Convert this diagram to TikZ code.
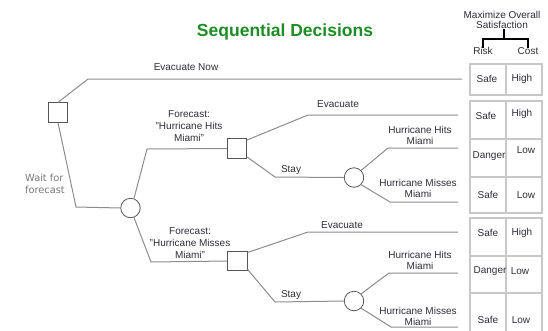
\documentclass[tikz,border=0pt]{standalone}
\usepackage{fontspec}
\setmainfont{Liberation Sans}
\newfontfamily\waitfont{DejaVu Sans}
\usetikzlibrary{calc}
\definecolor{titlegreen}{RGB}{28,140,36}
\definecolor{linegray}{RGB}{140,140,140}
\definecolor{nodegray}{RGB}{85,85,85}
\definecolor{cellgray}{RGB}{200,200,200}
\definecolor{txt}{RGB}{45,45,55}
\definecolor{waitgray}{RGB}{120,120,120}
\begin{document}
\begin{tikzpicture}[x=1pt,y=-1pt,
  branch/.style={draw=linegray,line width=1pt},
  decision/.style={draw=nodegray,line width=0.8pt,rectangle,minimum size=19.5pt,inner sep=0pt,fill=white},
  chance/.style={draw=nodegray,line width=0.8pt,circle,minimum size=19.5pt,inner sep=0pt,fill=white},
  lbl/.style={font=\fontsize{10}{12}\selectfont,text=txt,inner sep=0pt,align=center},
  hlbl/.style={font=\fontsize{10}{11}\selectfont,text=txt,inner sep=0pt,align=center},
  celltxt/.style={font=\fontsize{10}{12}\selectfont,text=txt,inner sep=0pt},
  cell/.style={draw=cellgray,line width=1.5pt},
  bracket/.style={draw=black,line width=1.6pt},
  waitlbl/.style={font=\waitfont\fontsize{9.8}{12}\selectfont,text=waitgray,inner sep=0pt,align=left}
]
\useasboundingbox (0,0) rectangle (548,330);

% title and header
\node[font=\fontsize{17.5}{20}\selectfont\bfseries,text=titlegreen] (title) at (285,32) {Sequential Decisions};
\node[font=\fontsize{10}{10.5}\selectfont,text=txt,align=center,inner sep=0pt] (hdr) at (502,20) {Maximize Overall\\Satisfaction};
\node[celltxt] (risk) at (483,51) {Risk};
\node[celltxt] (cost) at (528,51) {Cost};
\coordinate (bj) at (504,39);
\draw[bracket] (hdr.south -| bj) -- (bj);
\draw[bracket] ([yshift=-1pt]risk.north) -- (risk.north |- bj) -- (cost.north |- bj) -- ([yshift=-1pt]cost.north);

% table
\draw[cell] (470,64) rectangle (542,95);
\draw[cell] (506,64) -- (506,95);
\draw[cell] (470,101) rectangle (542,213);
\draw[cell] (506,101) -- (506,213);
\draw[cell] (470,139) -- (542,139);
\draw[cell] (470,177) -- (542,177);
\draw[cell] (470,331) -- (470,218) -- (542,218) -- (542,331);
\draw[cell] (506,218) -- (506,331);
\draw[cell] (470,256) -- (542,256);
\draw[cell] (470,293) -- (542,293);

\node[celltxt] (r1) at (487,79) {Safe};
\node[celltxt] (c1t) at (522,79) {High};
\node[celltxt] (r2) at (486,116) {Safe};
\node[celltxt] (c2t) at (522,114) {High};
\node[celltxt] (r3) at (489,156) {Danger};
\node[celltxt] (c3t) at (526,150) {Low};
\node[celltxt] (r4) at (488,195) {Safe};
\node[celltxt] (c4t) at (526,195) {Low};
\node[celltxt] (r5) at (488,233) {Safe};
\node[celltxt] (c5t) at (522,233) {High};
\node[celltxt] (r6) at (490,271) {Danger};
\node[celltxt] (c6t) at (520,271) {Low};
\node[celltxt] (r7) at (488,320) {Safe};
\node[celltxt] (c7t) at (521,320) {Low};

% nodes of the tree
\node[decision] (d1) at (58,112.5) {};
\node[chance] (cA) at (130.5,208) {};
\node[decision] (d2) at (237,148.5) {};
\node[decision] (d3) at (237.5,261) {};
\node[chance] (cB) at (354,177.5) {};
\node[chance] (cC) at (354,301) {};

\coordinate (k1) at (88,79);   \coordinate (e1) at (462,79);
\coordinate (k2) at (76,207);
\coordinate (k3) at (147,149);
\coordinate (k4) at (151,262);
\coordinate (k5) at (308,115); \coordinate (e5) at (458,115);
\coordinate (k6) at (275,177);
\coordinate (k7) at (388,148); \coordinate (e7) at (458,148);
\coordinate (k8) at (390,202); \coordinate (e8) at (458,202);
\coordinate (k9) at (308,232); \coordinate (e9) at (458,232);
\coordinate (k10) at (275,302);
\coordinate (k11) at (389,273); \coordinate (e11) at (458,273);
\coordinate (k12) at (391,327); \coordinate (e12) at (458,327);

\draw[branch] (d1.north) -- (k1) -- (e1);
\draw[branch] (d1.south) -- (k2) -- (cA.west);
\draw[branch] (cA.70) -- (k3) -- (d2.west);
\draw[branch] (cA.-70) -- (k4) -- (d3.west);
\draw[branch] (d2.40) -- (k5) -- (e5);
\draw[branch] (d2.-40) -- (k6) -- (cB.west);
\draw[branch] (cB.45) -- (k7) -- (e7);
\draw[branch] (cB.-45) -- (k8) -- (e8);
\draw[branch] (d3.40) -- (k9) -- (e9);
\draw[branch] (d3.-40) -- (k10) -- (cC.west);
\draw[branch] (cC.45) -- (k11) -- (e11);
\draw[branch] (cC.-45) -- (k12) -- (e12);

% labels
\node[lbl] (evnow) at (186,67) {Evacuate Now};
\node[waitlbl] (wait) at (45,184) {Wait for\\forecast};
\node[lbl] (f1) at (189,126) {Forecast:\\"Hurricane Hits\\Miami"};
\node[lbl] (f2) at (190,243) {Forecast:\\"Hurricane Misses\\Miami"};
\node[lbl] (ev1) at (338,104) {Evacuate};
\node[lbl] (st1) at (291,170) {Stay};
\node[hlbl] (hh1) at (420,135) {Hurricane Hits\\Miami};
\node[hlbl] (hm1) at (418,188) {Hurricane Misses\\Miami};
\node[lbl] (ev2) at (342,225) {Evacuate};
\node[lbl] (st2) at (291,295) {Stay};
\node[hlbl] (hh2) at (420,260.5) {Hurricane Hits\\Miami};
\node[hlbl] (hm2) at (418,316.5) {Hurricane Misses\\Miami};
\end{tikzpicture}
\end{document}
